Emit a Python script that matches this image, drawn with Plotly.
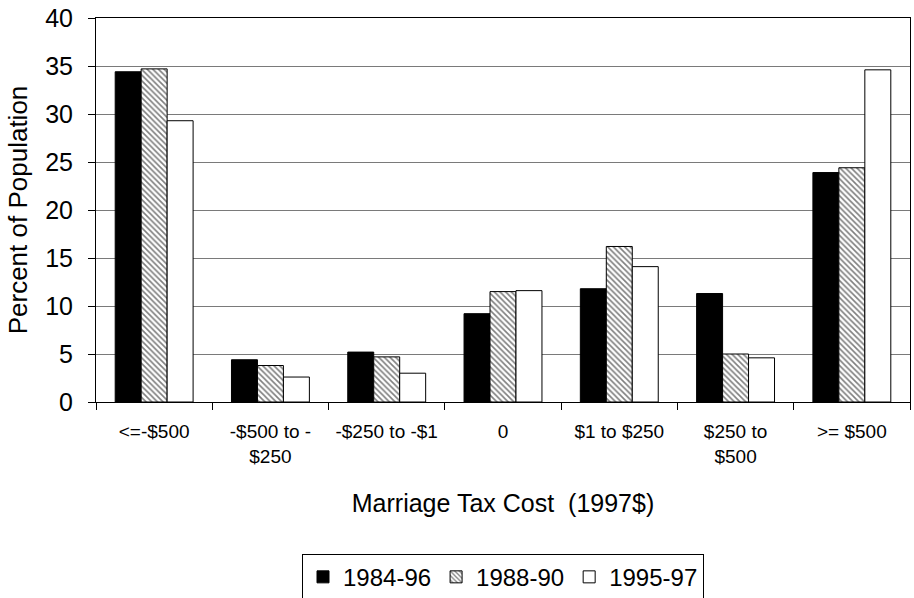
import plotly.graph_objects as go

categories = ["<=-$500", "-$500 to -<br>$250", "-$250 to -$1", "0",
              "$1 to $250", "$250 to<br>$500", ">= $500"]
period_1984_96 = [34.4, 4.4, 5.2, 9.2, 11.8, 11.3, 23.9]
period_1988_90 = [34.7, 3.8, 4.7, 11.5, 16.2, 5.0, 24.4]
period_1995_97 = [29.3, 2.6, 3.0, 11.6, 14.1, 4.6, 34.6]
y_ticks = [0, 5, 10, 15, 20, 25, 30, 35, 40]

FONT = "Arial, 'Liberation Sans', sans-serif"

fig = go.Figure()
fig.add_trace(go.Bar(
    name="1984-96", x=categories, y=period_1984_96,
    marker=dict(color="black", line=dict(color="black", width=1)),
))
fig.add_trace(go.Bar(
    name="1988-90", x=categories, y=period_1988_90,
    marker=dict(color="white", line=dict(color="black", width=1),
                pattern=dict(shape="\\", fgcolor="black", bgcolor="white",
                             size=4, solidity=0.4)),
))
fig.add_trace(go.Bar(
    name="1995-97", x=categories, y=period_1995_97,
    marker=dict(color="white", line=dict(color="black", width=1)),
))

fig.update_layout(
    width=914, height=598,
    margin=dict(l=96, r=4, t=18, b=196),
    paper_bgcolor="white", plot_bgcolor="white",
    barmode="group", bargap=0.33, bargroupgap=0,
    font=dict(family=FONT, color="black"),
    showlegend=True,
    legend=dict(orientation="h", x=0.5, xanchor="center",
                xref="paper", yref="container",
                y=0.074, yanchor="top",
                font=dict(size=24, family=FONT),
                bordercolor="black", borderwidth=1,
                itemwidth=30, tracegroupgap=0),
)

fig.update_xaxes(
    type="category",
    tickson="boundaries", ticks="outside", ticklen=7, tickcolor="black",
    ticklabelstandoff=12,
    tickfont=dict(size=19, family=FONT),
    showline=True, linecolor="black", linewidth=1, mirror=True,
    showgrid=False,
    title=dict(text="Marriage Tax Cost  (1997$)",
               font=dict(size=25, family=FONT), standoff=28),
    automargin=False,
)
fig.update_yaxes(
    range=[0, 40], tickvals=y_ticks,
    ticks="outside", ticklen=7, tickcolor="black",
    ticklabelstandoff=10,
    tickfont=dict(size=25, family=FONT),
    showline=True, linecolor="black", linewidth=1, mirror=True,
    showgrid=True, gridcolor="#7a7a7a", gridwidth=1,
    zeroline=False,
    title=dict(text="Percent of Population",
               font=dict(size=26, family=FONT), standoff=10),
    automargin=False,
)

fig.write_html("out.html")
